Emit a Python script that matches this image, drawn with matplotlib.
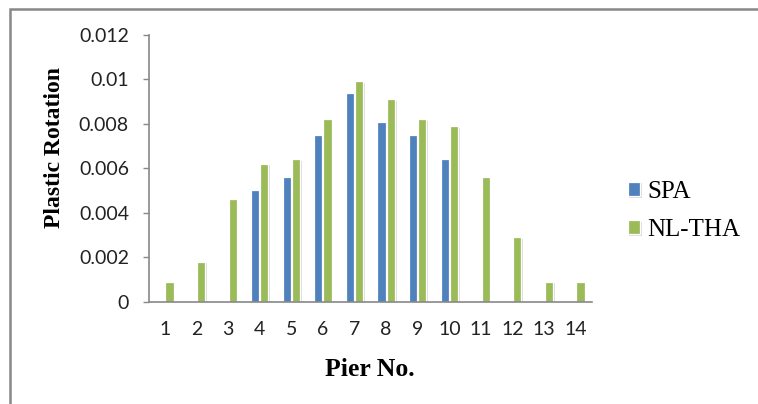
import numpy as np
import matplotlib
matplotlib.use('Agg')
import matplotlib.pyplot as plt
import matplotlib.patheffects as pe
from matplotlib.patches import Rectangle

# Data
piers = list(range(1, 15))
spa = [0, 0, 0, 0.0050, 0.0056, 0.0075, 0.0094, 0.0081, 0.0075, 0.0064, 0, 0, 0, 0]
nl_tha = [0.0009, 0.0018, 0.0046, 0.0062, 0.0064, 0.0082, 0.0099, 0.0091, 0.0082, 0.0079,
          0.0056, 0.0029, 0.0009, 0.0009]
y_ticks = [0, 0.002, 0.004, 0.006, 0.008, 0.01, 0.012]

blue = '#4F81BD'
green = '#9BBB59'
axis_grey = '#888888'

fig = plt.figure(figsize=(7.58, 4.04), dpi=100)
ax = fig.add_axes([0.1966, 0.2532, 0.584, 0.6608])

x = np.arange(len(piers)) + 1
width = 0.26
shadow = [pe.SimplePatchShadow(offset=(1.2, -1.2), shadow_rgbFace='#999999', alpha=0.35), pe.Normal()]

spa_x = [xi - 0.145 for xi, v in zip(x, spa) if v > 0]
spa_v = [v for v in spa if v > 0]
b1 = ax.bar(spa_x, spa_v, width, color=blue, edgecolor='white', linewidth=0.9, label='SPA')
b2 = ax.bar(x + 0.145, nl_tha, width, color=green, edgecolor='white', linewidth=0.9, label='NL-THA')
for bar in list(b1) + list(b2):
    bar.set_path_effects(shadow)

ax.set_xlim(0.5, 14.5)
ax.set_ylim(0, 0.012)
ax.set_xticks(x)
ax.set_xticklabels([str(p) for p in piers])
ax.set_yticks(y_ticks)
ax.set_yticklabels([f'{v:g}' for v in y_ticks])

for s in ['top', 'right']:
    ax.spines[s].set_visible(False)
for s in ['left', 'bottom']:
    ax.spines[s].set_color(axis_grey)
    ax.spines[s].set_linewidth(1.2)

ax.tick_params(axis='x', length=0, pad=14, labelsize=14, labelcolor='#222222')
ax.tick_params(axis='y', length=4.5, width=1, color=axis_grey, pad=10, labelsize=14, labelcolor='#222222')
for lab in ax.get_xticklabels() + ax.get_yticklabels():
    lab.set_family('Lato')

fig.text(370 / 758, 1 - 376 / 404, 'Pier No.', ha='center', va='baseline',
         family='Liberation Serif', fontweight='bold', fontsize=18.5)
fig.text(54 / 758, 1 - 148 / 404, 'Plastic Rotation', ha='center', va='center', rotation=90,
         family='Liberation Serif', fontweight='bold', fontsize=17)

leg = fig.legend(handles=[b1, b2], loc='center left', bbox_to_anchor=(0.828, 0.478),
                 frameon=False, prop={'family': 'Liberation Serif', 'size': 18},
                 handlelength=0.5, handleheight=0.5, handletextpad=0.3,
                 labelspacing=0.65, borderpad=0, borderaxespad=0)

# grey frame around the chart area
fig.add_artist(Rectangle((10 / 758, -0.2), 1.2, 1 - 9 / 404 + 0.2, transform=fig.transFigure,
                         fill=False, edgecolor=axis_grey, linewidth=1.8))

fig.savefig('out.png', dpi=100)
